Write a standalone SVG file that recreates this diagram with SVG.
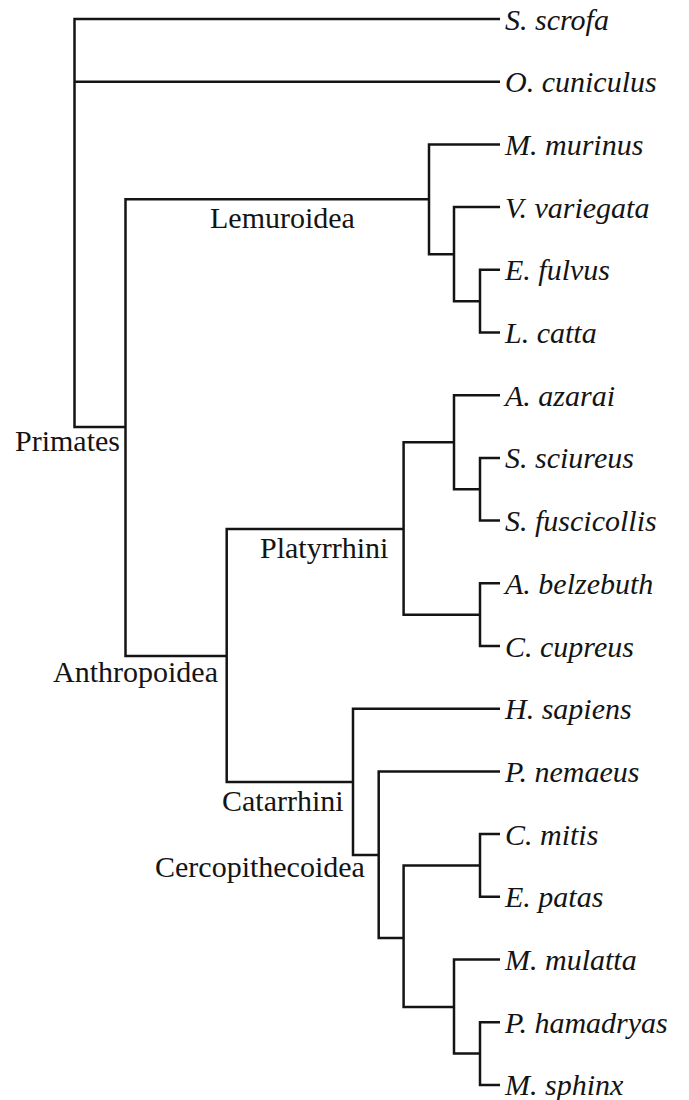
<svg xmlns="http://www.w3.org/2000/svg" width="689" height="1100" viewBox="0 0 689 1100">
<style>
.e{fill:none;stroke:#141414;stroke-width:2.5;stroke-linejoin:miter;stroke-linecap:butt}
.leaf{font-family:"Liberation Serif","Times New Roman",serif;font-style:italic;font-size:30px;fill:#141414}
.clade{font-family:"Liberation Serif","Times New Roman",serif;font-size:30px;fill:#141414}
</style>
<rect width="689" height="1100" fill="#ffffff"/>
<g id="connectors">
<path class="e" d="M500 19 H74.5 V427 H125.5"/>
<path class="e" d="M74.5 81.7 H500"/>
<path class="e" d="M429 199.2 H125.5 V656 H226.7"/>
<path class="e" d="M500 144.4 H429 V254.2 H454"/>
<path class="e" d="M500 207.1 H454 V301.2 H480"/>
<path class="e" d="M500 269.8 H480 V332.5 H500"/>
<path class="e" d="M403.6 529 H226.7 V782 H353"/>
<path class="e" d="M454 442.2 H403.6 V614.7 H480"/>
<path class="e" d="M500 395.2 H454 V489.2 H480"/>
<path class="e" d="M500 457.9 H480 V520.6 H500"/>
<path class="e" d="M500 583.3 H480 V646 H500"/>
<path class="e" d="M500 708.7 H353 V855 H378.7"/>
<path class="e" d="M500 771.4 H378.7 V938 H403.6"/>
<path class="e" d="M480 865.5 H403.6 V1007 H454"/>
<path class="e" d="M500 834.1 H480 V896.8 H500"/>
<path class="e" d="M500 959.5 H454 V1053.6 H480"/>
<path class="e" d="M500 1022.2 H480 V1084.9 H500"/>
</g>
<g id="n-s-scrofa"><text class="leaf" x="505" y="29.5">S. scrofa</text></g>
<g id="n-o-cuniculus"><text class="leaf" x="505" y="92.2">O. cuniculus</text></g>
<g id="n-m-murinus"><text class="leaf" x="505" y="154.9">M. murinus</text></g>
<g id="n-v-variegata"><text class="leaf" x="505" y="217.6">V. variegata</text></g>
<g id="n-e-fulvus"><text class="leaf" x="505" y="280.3">E. fulvus</text></g>
<g id="n-l-catta"><text class="leaf" x="505" y="343">L. catta</text></g>
<g id="n-a-azarai"><text class="leaf" x="505" y="405.7">A. azarai</text></g>
<g id="n-s-sciureus"><text class="leaf" x="505" y="468.4">S. sciureus</text></g>
<g id="n-s-fuscicollis"><text class="leaf" x="505" y="531.1">S. fuscicollis</text></g>
<g id="n-a-belzebuth"><text class="leaf" x="505" y="593.8">A. belzebuth</text></g>
<g id="n-c-cupreus"><text class="leaf" x="505" y="656.5">C. cupreus</text></g>
<g id="n-h-sapiens"><text class="leaf" x="505" y="719.2">H. sapiens</text></g>
<g id="n-p-nemaeus"><text class="leaf" x="505" y="781.9">P. nemaeus</text></g>
<g id="n-c-mitis"><text class="leaf" x="505" y="844.6">C. mitis</text></g>
<g id="n-e-patas"><text class="leaf" x="505" y="907.3">E. patas</text></g>
<g id="n-m-mulatta"><text class="leaf" x="505" y="970">M. mulatta</text></g>
<g id="n-p-hamadryas"><text class="leaf" x="505" y="1032.7">P. hamadryas</text></g>
<g id="n-m-sphinx"><text class="leaf" x="505" y="1095.4">M. sphinx</text></g>
<g id="c-primates"><text class="clade" x="15" y="451">Primates</text></g>
<g id="c-lemuroidea"><text class="clade" x="210" y="228">Lemuroidea</text></g>
<g id="c-anthropoidea"><text class="clade" x="53" y="681.5">Anthropoidea</text></g>
<g id="c-platyrrhini"><text class="clade" x="260" y="558">Platyrrhini</text></g>
<g id="c-catarrhini"><text class="clade" x="222" y="810.5">Catarrhini</text></g>
<g id="c-cercopithecoidea"><text class="clade" x="155" y="877">Cercopithecoidea</text></g>
</svg>
